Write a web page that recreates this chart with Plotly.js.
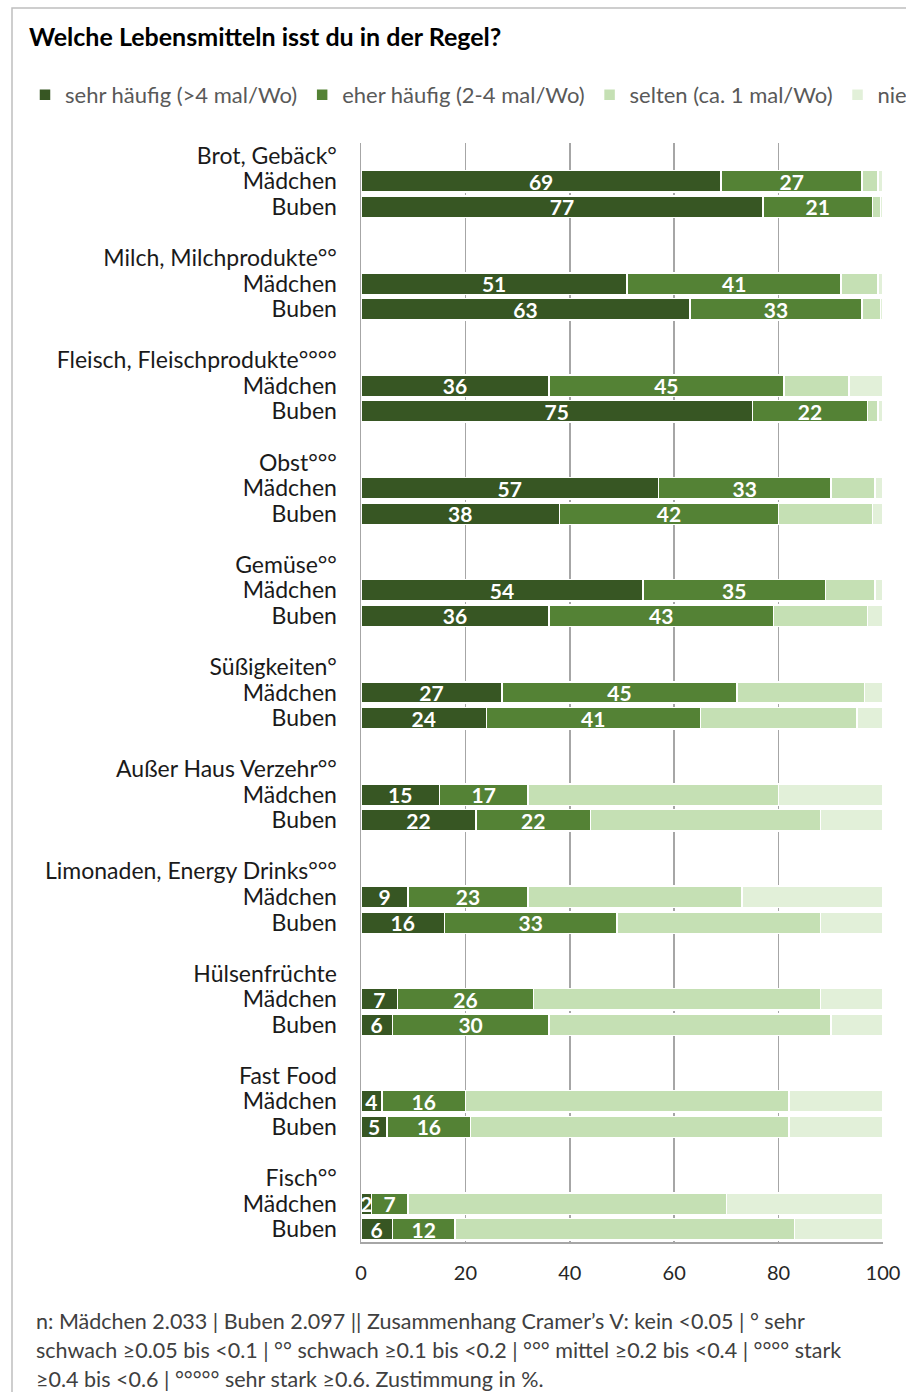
<!DOCTYPE html>
<html>
<head>
<meta charset="utf-8">
<script src="https://cdn.plot.ly/plotly-3.0.1.min.js"></script>
<style>
  html, body { margin: 0; padding: 0; background: #ffffff; overflow: hidden; width: 906px; height: 1392px; }
  #chart { position: absolute; left: -200px; top: 0; width: 1106px; height: 1392px; }
</style>
</head>
<body>
<div id="chart"></div>
<script>
// ---- Data ----
const categories = [
  'Brot, Gebäck°',
  'Milch, Milchprodukte°°',
  'Fleisch, Fleischprodukte°°°°',
  'Obst°°°',
  'Gemüse°°',
  'Süßigkeiten°',
  'Außer Haus Verzehr°°',
  'Limonaden, Energy Drinks°°°',
  'Hülsenfrüchte',
  'Fast Food',
  'Fisch°°'
];
const groups = ['Mädchen', 'Buben'];
const seriesNames = [
  'sehr häufig (&gt;4 mal/Wo)',
  'eher häufig (2-4 mal/Wo)',
  'selten (ca. 1 mal/Wo)',
  'nie (&lt;1 mal/Wo)'
];

const sehrHaeufigM = [69, 51, 36, 57, 54, 27, 15, 9, 7, 4, 2];
const sehrHaeufigB = [77, 63, 75, 38, 36, 24, 22, 16, 6, 5, 6];
const eherHaeufigM = [27, 41, 45, 33, 35, 45, 17, 23, 26, 16, 7];
const eherHaeufigB = [21, 33, 22, 42, 43, 41, 22, 33, 30, 16, 12];
const seltenM = [3, 7, 12.5, 8.5, 9.5, 24.5, 48, 41, 55, 62, 61];
const seltenB = [1.5, 3.5, 2, 18, 18, 30, 44, 39, 54, 61, 65];
const nieM = [1, 1, 6.5, 1.5, 1.5, 3.5, 20, 27, 12, 18, 30];
const nieB = [0.5, 0.5, 1, 2, 3, 5, 12, 12, 10, 18, 17];

const xTicks = [0, 20, 40, 60, 80, 100];

// ---- Styling ----
const colors = ['#375623', '#548235', '#C5E0B4', '#E2F0D9'];
const FONT = 'Lato, "Open Sans", sans-serif';

// rows: header, Mädchen, Buben, spacer per category
const rowM = categories.map((c, i) => i * 4 + 1);
const rowB = categories.map((c, i) => i * 4 + 2);
const tickvals = [], ticktext = [];
categories.forEach((c, i) => {
  tickvals.push(i * 4, i * 4 + 1, i * 4 + 2);
  ticktext.push(c, groups[0], groups[1]);
});

const seriesData = [
  [sehrHaeufigM, sehrHaeufigB],
  [eherHaeufigM, eherHaeufigB],
  [seltenM, seltenB],
  [nieM, nieB]
];

const traces = seriesData.map((pair, k) => ({
  type: 'bar',
  orientation: 'h',
  name: seriesNames[k],
  x: pair[0].concat(pair[1]),
  y: rowM.concat(rowB),
  width: 0.84,
  marker: { color: colors[k], line: { color: '#ffffff', width: 1.5 } },
  text: k < 2 ? pair[0].concat(pair[1]).map(v => String(v)) : undefined,
  textposition: k < 2 ? 'inside' : 'none',
  insidetextanchor: 'middle',
  textangle: 0,
  constraintext: 'none',
  textfont: { family: FONT, size: 21, color: '#ffffff', weight: 'bold' },
  hoverinfo: 'skip'
}));

const W = 1106, H = 1392, SHIFT = 200;
const plotL = 361 + SHIFT, plotR = 883 + SHIFT, plotT = 143, plotB = 1242;
const pw = plotR - plotL, ph = plotB - plotT;
const px = x => (x + SHIFT - plotL) / pw;       // window x -> paper x
const py = y => (plotB - y) / ph;               // window y -> paper y

const layout = {
  width: W,
  height: H,
  paper_bgcolor: '#ffffff',
  plot_bgcolor: '#ffffff',
  barmode: 'stack',
  bargap: 0,
  margin: { l: plotL, r: W - plotR, t: plotT, b: H - plotB, autoexpand: false },
  font: { family: FONT, color: '#262626' },
  title: {
    text: '<b>Welche Lebensmitteln isst du in der Regel?</b>',
    font: { family: FONT, size: 25, color: '#000000' },
    xref: 'container', yref: 'container',
    x: (29 + SHIFT) / W, xanchor: 'left',
    y: 1 - 37 / H, yanchor: 'middle'
  },
  showlegend: true,
  legend: {
    orientation: 'h',
    x: px(25), xanchor: 'left',
    y: py(95), yanchor: 'middle',
    font: { family: FONT, size: 22, color: '#595959' },
    bgcolor: 'rgba(0,0,0,0)',
    traceorder: 'normal',
    itemclick: false
  },
  xaxis: {
    range: [0, 100],
    tickvals: xTicks,
    ticktext: xTicks.map(String),
    showgrid: true,
    gridcolor: '#a6a6a6',
    gridwidth: 1.5,
    zeroline: false,
    showline: true,
    linecolor: '#a6a6a6',
    linewidth: 1.5,
    ticks: '',
    ticklabelstandoff: 12,
    tickfont: { family: FONT, size: 20, color: '#262626' },
    fixedrange: true
  },
  yaxis: {
    range: [42.5, -0.5],
    tickmode: 'array',
    tickvals: tickvals,
    ticktext: ticktext,
    showgrid: false,
    zeroline: false,
    showline: true,
    linecolor: '#a6a6a6',
    linewidth: 1.5,
    ticks: '',
    ticklabelstandoff: 18,
    tickfont: { family: FONT, size: 23, color: '#1a1a1a' },
    fixedrange: true
  },
  shapes: [{
    type: 'rect', xref: 'paper', yref: 'paper',
    x0: px(12), x1: px(1000), y0: py(1500), y1: py(8),
    line: { color: '#bfbfbf', width: 1.5 },
    fillcolor: 'rgba(0,0,0,0)',
    layer: 'below'
  }],
  annotations: [
    'n: Mädchen 2.033 | Buben 2.097 || Zusammenhang Cramer’s V: kein &lt;0.05 | ° sehr',
    'schwach ≥0.05 bis &lt;0.1 | °° schwach ≥0.1 bis &lt;0.2 | °°° mittel ≥0.2 bis &lt;0.4 | °°°° stark',
    '≥0.4 bis &lt;0.6 | °°°°° sehr stark ≥0.6. Zustimmung in %.'
  ].map((t, i) => ({
    text: t,
    xref: 'paper', yref: 'paper',
    x: px(34), xanchor: 'left',
    y: py(1321 + i * 29), yanchor: 'middle',
    showarrow: false,
    align: 'left',
    font: { family: FONT, size: 21.5, color: '#404040' }
  }))
};

Plotly.newPlot('chart', traces, layout, { staticPlot: true, displayModeBar: false });
</script>
</body>
</html>
